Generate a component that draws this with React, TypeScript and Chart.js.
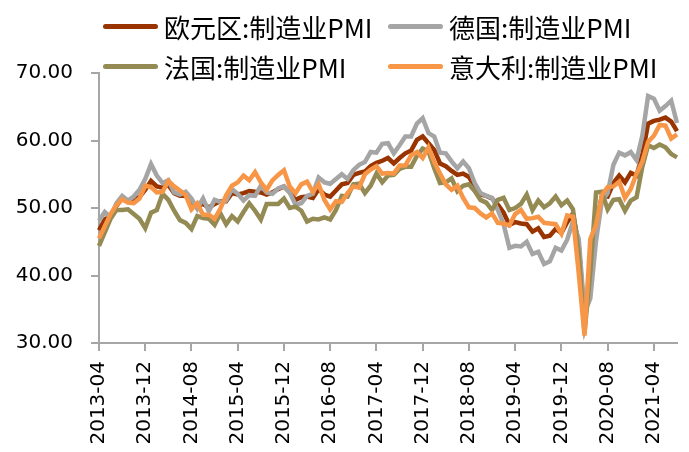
import React, { useEffect, useRef } from "react";
import { Chart, registerables } from "chart.js";

Chart.register(...registerables);

const START_YEAR = 2013;
const START_MONTH = 4;
const COUNT = 101;
const months: string[] = [];
for (let i = 0; i < COUNT; i++) {
  const m = START_MONTH - 1 + i;
  const y = START_YEAR + Math.floor(m / 12);
  const mm = (m % 12) + 1;
  months.push(`${y}-${mm < 10 ? "0" + mm : mm}`);
}

const seriesNames = ["欧元区:制造业PMI", "德国:制造业PMI", "法国:制造业PMI", "意大利:制造业PMI"];
const seriesColors = ["#993300", "#A5A5A5", "#948A54", "#F79646"];

const eurozone = [
  46.7, 48.3, 48.8, 50.3, 51.4, 51.1, 51.3, 51.6, 52.7,
  54.0, 53.2, 53.0, 53.4, 52.2, 51.8, 51.8, 50.7, 50.3, 50.6, 50.1, 50.6,
  51.0, 51.0, 52.2, 52.0, 52.2, 52.5, 52.4, 52.3, 52.0, 52.3, 52.8, 53.2,
  52.3, 51.2, 51.6, 51.7, 51.5, 52.8, 52.0, 51.7, 52.6, 53.5, 53.7, 54.9,
  55.2, 55.4, 56.2, 56.7, 57.0, 57.4, 56.6, 57.4, 58.1, 58.5, 60.1, 60.6,
  59.6, 58.6, 56.6, 56.2, 55.5, 54.9, 55.1, 54.6, 53.2, 52.0, 51.8, 51.4,
  50.5, 49.3, 47.5, 47.9, 47.7, 47.6, 46.5, 47.0, 45.7, 45.9, 46.9, 46.3,
  47.9, 49.2, 44.5, 33.4, 39.4, 47.4, 51.8, 51.7, 53.7, 54.8, 53.8, 55.2,
  54.8, 57.9, 62.5, 62.9, 63.1, 63.4, 62.8, 61.4,
];

const germany = [
  48.1, 49.4, 48.6, 50.7, 51.8, 51.1, 51.7, 52.7, 54.3,
  56.5, 54.8, 53.7, 54.1, 52.3, 52.0, 52.4, 51.4, 49.9, 51.4, 49.5, 51.2,
  50.9, 51.1, 52.8, 52.1, 51.1, 51.9, 51.8, 53.3, 52.3, 52.1, 52.9, 53.2,
  52.3, 50.5, 50.7, 51.8, 52.1, 54.5, 53.8, 53.6, 54.3, 55.0, 54.3, 55.6,
  56.4, 56.8, 58.3, 58.2, 59.5, 59.6, 58.1, 59.3, 60.6, 60.6, 62.5, 63.3,
  61.1, 60.6, 58.2, 58.1, 56.9, 55.9, 56.9, 55.9, 53.7, 52.2, 51.8, 51.5,
  49.7, 47.6, 44.1, 44.4, 44.3, 45.0, 43.2, 43.5, 41.7, 42.1, 44.1, 43.7,
  45.3, 48.0, 45.4, 34.5, 36.6, 45.2, 51.0, 52.2, 56.4, 58.2, 57.8, 58.3,
  57.1, 60.7, 66.6, 66.2, 64.4, 65.1, 65.9, 62.6,
];

const france = [
  44.4, 46.4, 48.4, 49.7, 49.7, 49.8, 49.1, 48.4, 47.0,
  49.3, 49.7, 52.1, 51.2, 49.6, 48.2, 47.8, 46.9, 48.8, 48.5, 48.4, 47.5,
  49.2, 47.6, 48.8, 48.0, 49.4, 50.7, 49.6, 48.3, 50.6, 50.6, 50.6, 51.4,
  50.0, 50.2, 49.6, 48.0, 48.4, 48.3, 48.6, 48.3, 49.7, 51.8, 51.7, 53.5,
  53.6, 52.2, 53.3, 55.1, 53.8, 54.8, 54.9, 55.8, 56.1, 56.1, 57.7, 58.8,
  58.4, 55.9, 53.7, 53.8, 54.4, 52.5, 53.3, 53.5, 52.5, 51.2, 50.8, 49.7,
  51.2, 51.5, 49.7, 50.0, 50.6, 52.0, 49.7, 51.1, 50.1, 50.7, 51.7, 50.4,
  51.1, 49.8, 43.2, 31.5, 40.6, 52.3, 52.4, 49.8, 51.2, 51.3, 49.6, 51.1,
  51.6, 56.1, 59.3, 58.9, 59.4, 59.0, 58.0, 57.5,
];

const italy = [
  45.5, 47.3, 49.1, 50.4, 51.3, 50.8, 50.7, 51.4, 53.3,
  53.1, 52.3, 52.4, 54.0, 53.2, 52.6, 51.9, 49.8, 50.7, 49.0, 49.0, 48.4,
  49.9, 51.9, 53.3, 53.8, 54.8, 54.1, 55.3, 53.8, 52.7, 54.1, 54.9, 55.6,
  53.2, 52.2, 53.5, 53.9, 52.4, 53.5, 51.2, 49.8, 51.0, 50.9, 52.2, 53.2,
  53.0, 55.0, 55.7, 56.2, 55.1, 55.2, 55.1, 56.3, 56.3, 57.8, 58.3, 57.4,
  59.0, 56.8, 55.1, 53.5, 52.7, 53.3, 51.5, 50.1, 50.0, 49.2, 48.6, 49.2,
  47.8, 47.7, 47.4, 49.1, 49.7, 48.4, 48.5, 48.7, 47.8, 47.7, 47.6, 46.2,
  48.9, 48.7, 40.3, 31.1, 45.4, 47.5, 51.9, 53.1, 53.2, 53.9, 51.5, 52.8,
  55.1, 56.9, 59.8, 60.7, 62.3, 62.2, 60.3, 60.9,
];

const seriesData = [eurozone, germany, france, italy];
const yMin = 30;
const yMax = 70;
const yStep = 10;
const tickEvery = 8;

const FONT = "'DejaVu Sans', sans-serif";
const AXIS = "#A6A6A6";

export default function App() {
  const ref = useRef<HTMLCanvasElement | null>(null);

  useEffect(() => {
    if (!ref.current) return;
    const chart = new Chart(ref.current, {
      type: "line",
      data: {
        labels: months,
        datasets: seriesData.map((d, i) => ({
          label: seriesNames[i],
          data: d,
          borderColor: seriesColors[i],
          backgroundColor: seriesColors[i],
          borderWidth: 4.5,
          pointRadius: 0,
          tension: 0,
          clip: false as any,
          order: 3 - i,
        })),
      },
      options: {
        animation: false,
        responsive: true,
        maintainAspectRatio: false,
        layout: { padding: { top: 73, right: 12, left: 0, bottom: 0 } },
        plugins: { legend: { display: false }, tooltip: { enabled: false } },
        scales: {
          x: {
            type: "category",
            offset: false,
            border: { color: AXIS, width: 2 },
            grid: {
              drawOnChartArea: false,
              tickLength: 8,
              lineWidth: 2,
              color: (ctx: any) => (ctx.index % tickEvery === 0 ? AXIS : "rgba(0,0,0,0)"),
            },
            ticks: {
              autoSkip: false,
              maxRotation: 90,
              minRotation: 90,
              padding: 10,
              color: "#000",
              font: { family: FONT, size: 20 },
              callback: (_v: any, i: number) => (i % tickEvery === 0 ? months[i] : ""),
            },
            afterFit: (s: any) => {
              s.height = 109;
              s.paddingLeft = 0;
              s.paddingRight = 0;
            },
          },
          y: {
            min: yMin,
            max: yMax,
            border: { color: AXIS, width: 2 },
            grid: { drawOnChartArea: false, tickLength: 8, lineWidth: 2, color: AXIS },
            ticks: {
              stepSize: yStep,
              padding: 18,
              color: "#000",
              font: { family: FONT, size: 20 },
              callback: (v: any) => Number(v).toFixed(2),
            },
            afterFit: (s: any) => {
              s.width = 99;
              s.paddingTop = 0;
              s.paddingBottom = 0;
            },
          },
        },
      },
    });
    return () => chart.destroy();
  }, []);

  const legendPos = [
    { x: 103, y: 26.7 },
    { x: 388, y: 26.7 },
    { x: 103, y: 66.7 },
    { x: 388, y: 66.7 },
  ];

  return (
    <div style={{ position: "fixed", left: 0, top: 0, width: 689, height: 452, background: "#fff" }}>
      <canvas ref={ref} />
      {legendPos.map((p, i) => (
        <div key={i} style={{ position: "absolute", left: p.x, top: p.y - 15, height: 30, display: "flex", alignItems: "center" }}>
          <div style={{ width: 55, height: 5, borderRadius: 3, background: seriesColors[i] }} />
          <span
            style={{
              marginLeft: 6,
              fontFamily: "'Noto Sans CJK SC', sans-serif",
              fontSize: 26,
              lineHeight: "30px",
              color: "#000",
              whiteSpace: "nowrap",
            }}
          >
            {seriesNames[i]}
          </span>
        </div>
      ))}
    </div>
  );
}
